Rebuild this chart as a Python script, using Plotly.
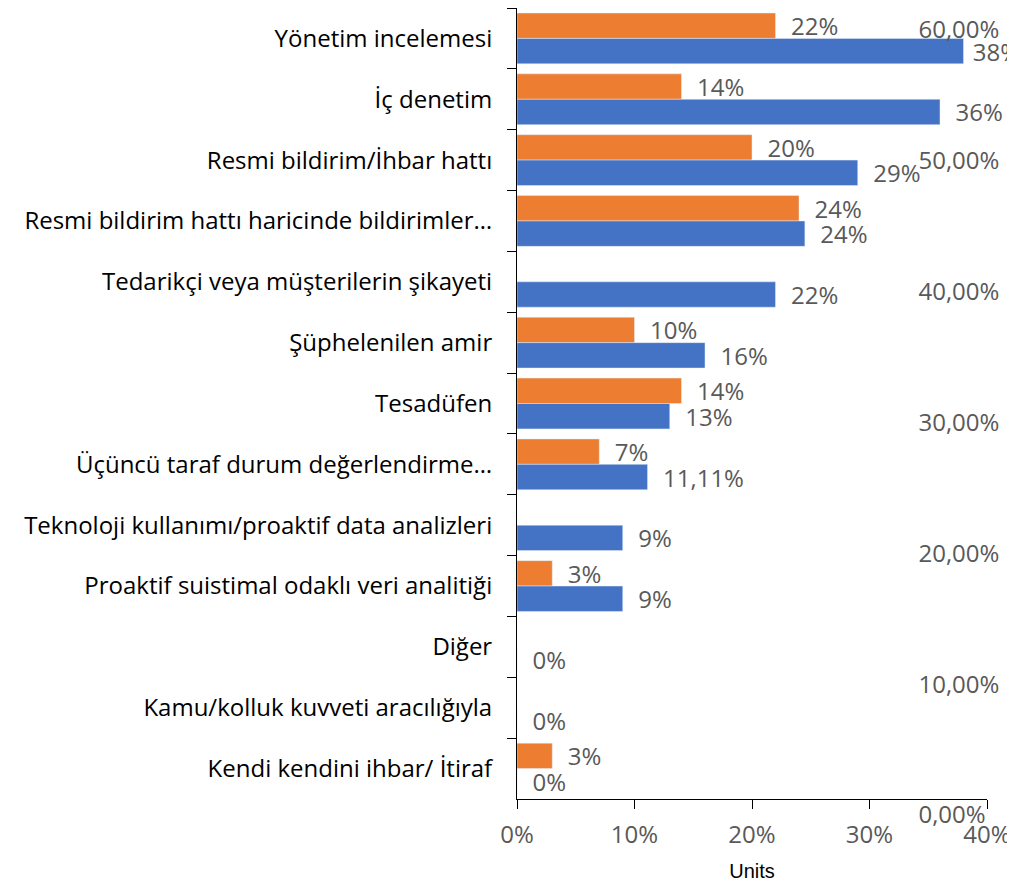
import plotly.graph_objects as go

categories = [
    "Yönetim incelemesi",
    "İç denetim",
    "Resmi bildirim/İhbar hattı",
    "Resmi bildirim hattı haricinde bildirimler…",
    "Tedarikçi veya müşterilerin şikayeti",
    "Şüphelenilen amir",
    "Tesadüfen",
    "Üçüncü taraf durum değerlendirme…",
    "Teknoloji kullanımı/proaktif data analizleri",
    "Proaktif suistimal odaklı veri analitiği",
    "Diğer",
    "Kamu/kolluk kuvveti aracılığıyla",
    "Kendi kendini ihbar/ İtiraf",
]
orange_values = [0.22, 0.14, 0.20, 0.24, None, 0.10, 0.14, 0.07, None, 0.03, None, None, 0.03]
orange_labels = ["22%", "14%", "20%", "24%", "", "10%", "14%", "7%", "", "3%", "", "", "3%"]
blue_values = [0.38, 0.36, 0.29, 0.245, 0.22, 0.16, 0.13, 0.1111, 0.09, 0.09, 0.0, 0.0, 0.0]
blue_labels = ["38%", "36%", "29%", "24%", "22%", "16%", "13%", "11,11%", "9%", "9%", "0%", "0%", "0%"]
x_ticks = [0, 0.1, 0.2, 0.3, 0.4]
x_ticklabels = ["0%", "10%", "20%", "30%", "40%"]
y2_ticks = [0, 0.1, 0.2, 0.3, 0.4, 0.5, 0.6]
y2_ticklabels = ["0,00%", "10,00%", "20,00%", "30,00%", "40,00%", "50,00%", "60,00%"]

FONT = "Open Sans"
LABEL_COLOR = "#595959"
FS = 24

def pad(labels, values):
    # labels near the right edge sit closer to their bar (as Excel does)
    out = []
    for t, v in zip(labels, values):
        if not t:
            out.append("")
        elif v is not None and v >= 0.37:
            out.append(" " + t)
        else:
            out.append("  " + t)
    return out

fig = go.Figure()
fig.add_trace(go.Bar(
    y=categories, x=orange_values, orientation="h", name="Seri 2",
    marker=dict(color="#ED7D31"),
    text=pad(orange_labels, orange_values), textposition="outside", cliponaxis=False,
    constraintext="none",
    textfont=dict(color=LABEL_COLOR, size=FS, family=FONT),
))
fig.add_trace(go.Bar(
    y=categories, x=blue_values, orientation="h", name="Seri 1",
    marker=dict(color="#4472C4"),
    text=pad(blue_labels, blue_values), textposition="outside", cliponaxis=False,
    constraintext="none",
    textfont=dict(color=LABEL_COLOR, size=FS, family=FONT),
))
fig.add_trace(go.Scatter(x=[None], y=[None], yaxis="y2", showlegend=False, hoverinfo="skip"))

W, H = 1007, 878
top = 0
zero2 = 807          # layout y of the right-axis 0 tick
axis_bottom = 791    # layout y of the bottom axis line
top2 = 22            # layout y of the right-axis 60% tick
plot_h = zero2 - top
y_dom_bottom = (zero2 - axis_bottom) / plot_h
r2 = 0.6 * plot_h / (zero2 - top2)

fig.update_layout(
    width=W, height=H,
    margin=dict(l=509, r=28, t=top, b=H - zero2, pad=0),
    paper_bgcolor="white", plot_bgcolor="rgba(0,0,0,0)",
    barmode="group", bargap=0.165, bargroupgap=0,
    showlegend=False,
    uniformtext=dict(mode=False),
    xaxis=dict(
        range=[0, 0.4], tickvals=x_ticks, ticktext=x_ticklabels,
        showgrid=False, zeroline=False,
        showline=True, linecolor="#000000", linewidth=1,
        ticks="outside", ticklen=9, tickcolor="#000000",
        ticklabelstandoff=5,
        tickfont=dict(family=FONT, size=FS, color=LABEL_COLOR),
        title=dict(text="Units", font=dict(family="Liberation Sans", size=20, color="#000000"), standoff=15),
        anchor="y",
    ),
    yaxis=dict(
        domain=[y_dom_bottom, 1],
        type="category", categoryorder="array", categoryarray=categories,
        autorange="reversed",
        showgrid=False, zeroline=False,
        showline=True, linecolor="#000000", linewidth=1,
        ticks="outside", ticklen=9, tickcolor="#000000", tickson="boundaries",
        tickfont=dict(family=FONT, size=FS, color="#000000"),
        ticklabelstandoff=19,
    ),
    yaxis2=dict(
        domain=[0, 1], range=[0, r2], anchor="free", position=0.852,
        tickvals=y2_ticks, ticktext=y2_ticklabels,
        showgrid=False, zeroline=False, showline=False, ticks="",
        side="right",
        tickfont=dict(family=FONT, size=FS, color=LABEL_COLOR),
    ),
)

fig.write_html("out.html")
